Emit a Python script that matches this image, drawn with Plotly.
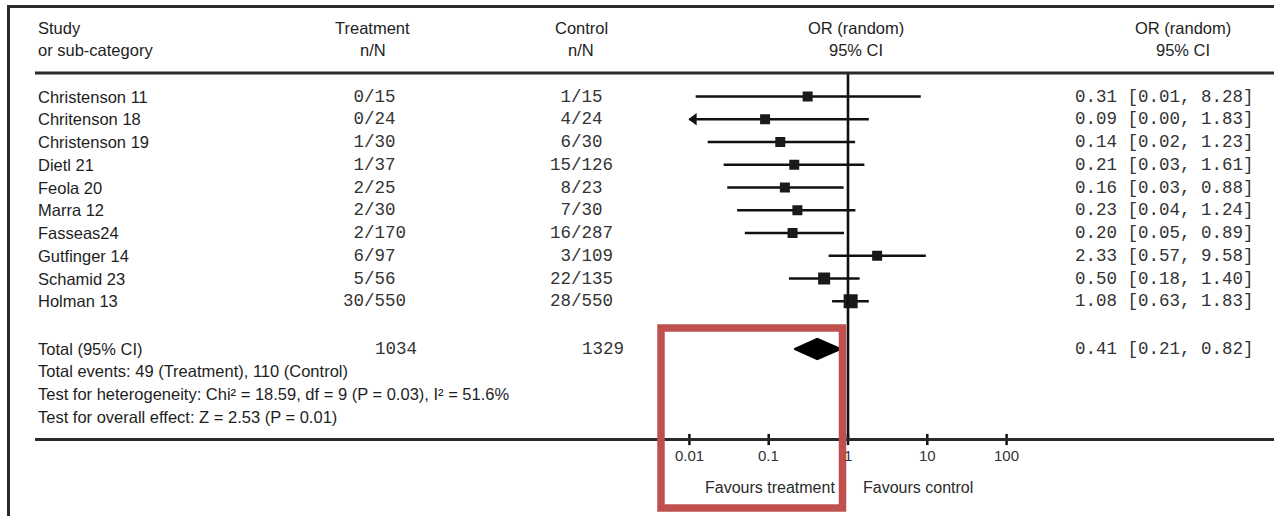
import math
import plotly.graph_objects as go

# ---------------- data ----------------
studies = ["Christenson 11", "Chritenson 18", "Christenson 19", "Dietl 21", "Feola 20",
           "Marra 12", "Fasseas24", "Gutfinger 14", "Schamid 23", "Holman 13"]
treat_n = [0, 0, 1, 1, 2, 2, 2, 6, 5, 30]
treat_N = [15, 24, 30, 37, 25, 30, 170, 97, 56, 550]
ctrl_n = [1, 4, 6, 15, 8, 7, 16, 3, 22, 28]
ctrl_N = [15, 24, 30, 126, 23, 30, 287, 109, 135, 550]
or_est = [0.31, 0.09, 0.14, 0.21, 0.16, 0.23, 0.20, 2.33, 0.50, 1.08]
ci_low = [0.012, 0.004, 0.017, 0.027, 0.03, 0.04, 0.05, 0.57, 0.18, 0.63]
ci_high = [8.28, 1.83, 1.23, 1.61, 0.88, 1.24, 0.89, 9.58, 1.40, 1.83]

total_treat_N = 1034
total_ctrl_N = 1329
total_or = 0.41
total_low = 0.21
total_high = 0.82
total_events_treat = 49
total_events_ctrl = 110
chi2, df_het, p_het, i2 = 18.59, 9, 0.03, 51.6
z_val, p_overall = 2.53, 0.01

tick_vals = [0.01, 0.1, 1, 10, 100]
tick_text = ["0.01", "0.1", "1", "10", "100"]
axis_min = 0.01

# ---------------- layout / style ----------------
W, H = 1274, 516
X_ONE = 848.0          # pixel of OR = 1
DECADE = 79.3          # pixels per decade
x_range = [(0 - X_ONE) / DECADE, (W - X_ONE) / DECADE]
ROW0, ROW_STEP = 96.5, 22.75
TOTAL_Y = 349
HEAD_Y1, HEAD_Y2 = 28, 50
HEAD_LINE_Y, AXIS_Y = 73, 439.5
marker_sizes = [10, 10, 10, 10, 10, 10, 10, 10, 12, 14]

SANS = "Liberation Sans, Arial, sans-serif"
MONO = "Liberation Mono, Courier New, monospace"
TXT = "#1e1e1e"
FS = 16.5
FM = 17.5
NB = "\u00a0"

fig = go.Figure()
fig.update_layout(
    width=W, height=H, margin=dict(l=0, r=0, t=0, b=0),
    paper_bgcolor="white", plot_bgcolor="white", showlegend=False,
    xaxis=dict(type="log", range=x_range, visible=False, fixedrange=True),
    yaxis=dict(range=[H, 0], visible=False, fixedrange=True),
)


def txt(xpx, ypx, s, anchor="left", family=SANS, size=FS, color=TXT):
    fig.add_annotation(x=xpx / W, y=ypx, xref="paper", yref="y", text=s, showarrow=False,
                       xanchor=anchor, yanchor="middle", borderpad=0,
                       font=dict(family=family, size=size, color=color))


def hline(x0, x1, y, width=3, color="#2a2a2a"):
    fig.add_shape(type="line", xref="paper", yref="y", x0=x0 / W, x1=x1 / W, y0=y, y1=y,
                  line=dict(color=color, width=width))


# frame and separators
hline(7, W, 6.5, width=3)
fig.add_shape(type="line", xref="paper", yref="y", x0=8.5 / W, x1=8.5 / W, y0=5, y1=H,
              line=dict(color="#2a2a2a", width=3))
hline(35, W, HEAD_LINE_Y, width=3)
hline(35, W, AXIS_Y, width=3)

# headers
NAME_X = 37
T_SLASH, C_SLASH = 363, 570
CHAR = FM * 0.6
txt(NAME_X, HEAD_Y1, "Study")
txt(NAME_X, HEAD_Y2, "or sub-category")
txt(373, HEAD_Y1, "Treatment", "center")
txt(373, HEAD_Y2, "n/N", "center")
txt(581, HEAD_Y1, "Control", "center")
txt(581, HEAD_Y2, "n/N", "center")
txt(856, HEAD_Y1, "OR (random)", "center")
txt(856, HEAD_Y2, "95% CI", "center")
txt(1183, HEAD_Y1, "OR (random)", "center")
txt(1183, HEAD_Y2, "95% CI", "center")


def frac(n, N):
    return (NB * (2 - len(str(n)))) + f"{n}/{N}"


RIGHT_X = 1255
# rows
for i, name in enumerate(studies):
    y = ROW0 + i * ROW_STEP
    txt(NAME_X, y, name)
    txt(T_SLASH - 2 * CHAR, y, frac(treat_n[i], treat_N[i]), "left", MONO, FM, "#333")
    txt(C_SLASH - 2 * CHAR, y, frac(ctrl_n[i], ctrl_N[i]), "left", MONO, FM, "#333")
    txt(RIGHT_X, y, f"{or_est[i]:.2f} [{ci_low[i]:.2f}, {ci_high[i]:.2f}]", "right", MONO, FM, "#333")

    lo = max(ci_low[i], axis_min)
    fig.add_trace(go.Scatter(x=[lo, ci_high[i]], y=[y, y], mode="lines",
                             line=dict(color="#111", width=2.6), hoverinfo="skip"))
    if ci_low[i] < axis_min:
        fig.add_trace(go.Scatter(x=[axis_min * 10 ** (4.5 / DECADE)], y=[y], mode="markers",
                                 marker=dict(symbol="triangle-left", size=11, color="#111"),
                                 hoverinfo="skip"))
    fig.add_trace(go.Scatter(x=[or_est[i]], y=[y], mode="markers",
                             marker=dict(symbol="square", size=marker_sizes[i], color="#1a1a1a",
                                         line=dict(width=0)), hoverinfo="skip"))

# totals
txt(NAME_X, TOTAL_Y, "Total (95% CI)")
txt(T_SLASH + CHAR, TOTAL_Y, str(total_treat_N), "left", MONO, FM, "#333")
txt(C_SLASH + CHAR, TOTAL_Y, str(total_ctrl_N), "left", MONO, FM, "#333")
txt(RIGHT_X, TOTAL_Y, f"{total_or:.2f} [{total_low:.2f}, {total_high:.2f}]", "right", MONO, FM, "#333")
txt(NAME_X, 371, f"Total events: {total_events_treat} (Treatment), {total_events_ctrl} (Control)")
txt(NAME_X, 394, f"Test for heterogeneity: Chi² = {chi2:.2f}, df = {df_het} (P = {p_het:.2f}), I² = {i2:.1f}%")
txt(NAME_X, 417, f"Test for overall effect: Z = {z_val:.2f} (P = {p_overall:.2f})")

DH = 10.5
fig.add_trace(go.Scatter(x=[total_low, total_or, total_high, total_or, total_low],
                         y=[TOTAL_Y, TOTAL_Y - DH, TOTAL_Y, TOTAL_Y + DH, TOTAL_Y],
                         mode="lines", fill="toself", fillcolor="#000",
                         line=dict(color="#000", width=1.5), hoverinfo="skip"))

# line of no effect
fig.add_trace(go.Scatter(x=[1, 1], y=[HEAD_LINE_Y, AXIS_Y], mode="lines",
                         line=dict(color="#111", width=2.6), hoverinfo="skip"))

# axis ticks and labels
fig.add_trace(go.Scatter(x=tick_vals, y=[AXIS_Y] * len(tick_vals), mode="markers",
                         marker=dict(symbol="line-ns", size=8, line=dict(color="#111", width=2.5)),
                         hoverinfo="skip"))
for v, t in zip(tick_vals, tick_text):
    fig.add_annotation(x=math.log10(v), y=455, xref="x", yref="y", text=t, showarrow=False,
                       xanchor="center", yanchor="middle",
                       font=dict(family=SANS, size=15, color="#333"))

txt(836, 487, "Favours treatment", "right", size=16, color="#2a2a2a")
txt(862, 487, "Favours control", "left", size=16, color="#2a2a2a")

# highlight box
fig.add_shape(type="rect", xref="paper", yref="y", x0=661 / W, x1=842.5 / W, y0=328, y1=508,
              line=dict(color="#c0504d", width=7.5), fillcolor="rgba(0,0,0,0)", layer="above")

fig.write_html("out.html", config={"displayModeBar": False},
               post_script="document.body.style.margin='0';")
